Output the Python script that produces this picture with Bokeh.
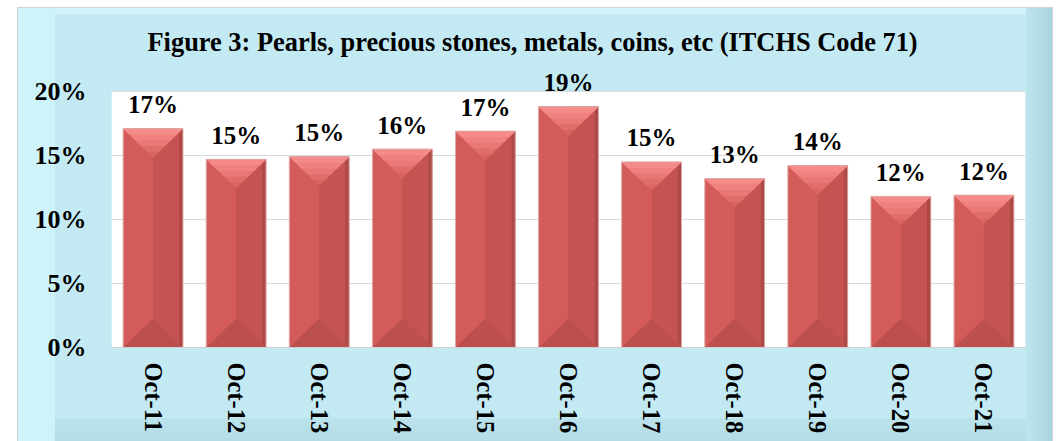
import numpy as np
from bokeh.plotting import figure
from bokeh.models import (FactorRange, Range1d, FixedTicker, NumeralTickFormatter,
                          Spacer, ColumnDataSource)
from bokeh.layouts import row, column
from bokeh.embed import file_html
from bokeh.resources import INLINE
from bokeh.core.properties import value

# ---- data ----
categories = ["Oct-11", "Oct-12", "Oct-13", "Oct-14", "Oct-15", "Oct-16",
              "Oct-17", "Oct-18", "Oct-19", "Oct-20", "Oct-21"]
shares = [0.171, 0.147, 0.149, 0.155, 0.169, 0.188, 0.145, 0.132, 0.142, 0.118, 0.119]
share_labels = ["17%", "15%", "15%", "16%", "17%", "19%", "15%", "13%", "14%", "12%", "12%"]
y_ticks = [0, 0.05, 0.10, 0.15, 0.20]
title_text = "Figure 3: Pearls, precious stones, metals, coins, etc (ITCHS Code 71)"

# ---- style ----
FONT = "Liberation Serif"
BLUE = "#C3EAF3"
BAR_W = 0.72
BEVEL = 0.0227  # bevel depth in data units (about half a bar width on screen)

frame_bg = ("linear-gradient(to left, #A9D4DF 0px, #BDE5EE 26px, rgba(0,0,0,0) 26px), "
            "linear-gradient(to right, #CFF4FC 0px, #CCF2FA 37px, rgba(0,0,0,0) 37px), "
            "linear-gradient(to top, #B3DCE6 0px, #BCE3EC 23px, rgba(0,0,0,0) 23px), "
            "linear-gradient(to bottom, #D6F5FA 0px, #CDF0F7 7px, rgba(0,0,0,0) 7px), "
            + BLUE)

p = figure(frame_width=914, frame_height=282,
           x_range=FactorRange(factors=categories),
           y_range=Range1d(0, 0.2203),
           output_backend="svg", toolbar_location=None,
           min_border_left=93, min_border_right=27, min_border_top=57, min_border_bottom=94,
           background_fill_color=BLUE, border_fill_color=BLUE, border_fill_alpha=0,
           outline_line_color=None, title=title_text,
           styles={"background": frame_bg, "outline": "1px solid #D4D4D4"})

# white plot area
x_num = np.arange(len(categories)) + 0.5
v = np.array(shares)
p.quad(left=[0], right=[len(categories)], bottom=[0], top=[y_ticks[-1]],
       fill_color="white", line_color=None, level="image")

hw = BAR_W / 2
# bars: left face
p.vbar(x=x_num, width=BAR_W, top=v, bottom=0, fill_color="#D35C5A", line_color=None)
# right face
p.quad(left=x_num, right=x_num + hw, bottom=0, top=v, fill_color="#C45351", line_color=None)
p.quad(left=x_num + hw - 0.045, right=x_num + hw, bottom=0, top=v, fill_color="#AD4947", line_color=None)
# bottom bevel
p.patches(xs=[[a - hw, a + hw, a] for a in x_num], ys=[[0, 0, BEVEL] for _ in x_num],
          fill_color="#BC504E", line_color=None)
# top bevel: nested bands giving a light-to-dark gradient
bevel_cols = ["#DA6462", "#E16D6B", "#E87775", "#EF817F", "#F48B89"]
n = len(bevel_cols)
for k, col in enumerate(bevel_cols):
    f = 1 - k / n  # fraction of depth covered from the top
    p.patches(xs=[[a - hw, a + hw, a + hw * (1 - f), a - hw * (1 - f)] for a in x_num],
              ys=[[t, t, t - BEVEL * f, t - BEVEL * f] for t in v],
              fill_color=col, line_color=None)
# outline
p.vbar(x=x_num, width=BAR_W, top=v, bottom=0, fill_color=None, line_color="#DDA9A7", line_width=1)

# value labels
src = ColumnDataSource(dict(x=categories, y=shares, t=share_labels))
p.text(x="x", y="y", text="t", source=src, text_font=value(FONT), text_font_style="bold",
       text_font_size="25px", text_align="center", text_baseline="alphabetic",
       y_offset=-24, text_color="black")

# title
p.title.align = "left"
p.title.offset = 36
p.title.text_font = FONT
p.title.text_font_style = "bold"
p.title.text_font_size = "26.4px"
p.title.text_color = "black"
p.title.vertical_align = "bottom"
p.title.standoff = 17

# axes
p.yaxis.ticker = FixedTicker(ticks=y_ticks)
p.yaxis.formatter = NumeralTickFormatter(format="0%")
p.yaxis.axis_line_color = None
p.yaxis.major_tick_line_color = None
p.yaxis.minor_tick_line_color = None
p.yaxis.major_tick_out = 0
p.yaxis.major_tick_in = 0
p.yaxis.major_label_standoff = 25
p.yaxis.major_label_text_font = FONT
p.yaxis.major_label_text_font_style = "bold"
p.yaxis.major_label_text_font_size = "26px"
p.yaxis.major_label_text_color = "black"

p.xaxis.axis_line_color = "#CFCFCF"
p.xaxis.major_tick_line_color = None
p.xaxis.major_tick_out = 0
p.xaxis.major_tick_in = 0
p.xaxis.major_label_standoff = 15
p.xaxis.major_label_orientation = "vertical"
p.xaxis.major_label_text_font = FONT
p.xaxis.major_label_text_font_style = "bold"
p.xaxis.major_label_text_font_size = "24.5px"
p.xaxis.major_label_text_color = "black"

p.xgrid.grid_line_color = None
p.ygrid.ticker = FixedTicker(ticks=y_ticks)
p.ygrid.grid_line_color = "#D9D9D9"
p.ygrid.grid_line_width = 1

layout = column(Spacer(width=10, height=8), row(Spacer(width=18, height=433), p))
open("out.html", "w").write(file_html(layout, INLINE))
